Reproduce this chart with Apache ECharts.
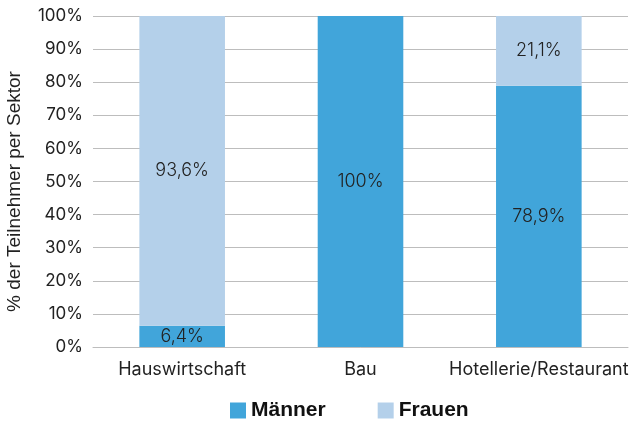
<!DOCTYPE html>
<html>
<head>
<meta charset="utf-8">
<script src="https://cdn.jsdelivr.net/npm/echarts@6/dist/echarts.min.js"></script>
<style>
  html, body { margin: 0; padding: 0; background: #fff; }
  #chart { width: 644px; height: 422px; }
</style>
</head>
<body>
<div id="chart"></div>
<script>
const sectors = ['Hauswirtschaft', 'Bau', 'Hotellerie/Restaurant'];
const maenner = [6.4, 100, 78.9];
const frauen = [93.6, 0, 21.1];
const yTicks = [0, 10, 20, 30, 40, 50, 60, 70, 80, 90, 100];

let fontName = 'Inter';

function pct(p) {
    if (!p.value) return '';
    return String(p.value).replace('.', ',') + '%';
}

let myChart = echarts.init(document.getElementById('chart'));

myChart.setOption({
    animation: false,
    textStyle: { fontFamily: fontName },
    grid: { left: 93, right: 16, top: 16, bottom: 75, containLabel: false, outerBoundsMode: 'none' },
    legend: {
        bottom: -4,
        left: 225,
        itemWidth: 16,
        itemHeight: 16,
        itemGap: 52,
        icon: 'rect',
        textStyle: { fontSize: 21, fontWeight: 'bold', color: '#111', fontFamily: 'Liberation Sans' },
        data: ['Männer', 'Frauen']
    },
    xAxis: {
        type: 'category',
        data: sectors,
        axisLine: { lineStyle: { color: '#bdbdbd' } },
        axisTick: { show: false },
        axisLabel: { interval: 0, fontSize: 18, color: '#222', margin: 14 }
    },
    yAxis: {
        type: 'value',
        min: yTicks[0],
        max: yTicks[yTicks.length - 1],
        interval: 10,
        name: '% der Teilnehmer per Sektor',
        nameLocation: 'middle',
        nameGap: 69,
        nameTextStyle: { fontSize: 19, color: '#222', fontFamily: 'Liberation Sans', padding: [0, 20, 0, 0] },
        axisLabel: { fontSize: 17, color: '#222', margin: 10, formatter: '{value}%' },
        splitLine: { lineStyle: { color: '#bdbdbd' } }
    },
    series: [
        {
            name: 'Männer',
            type: 'bar',
            stack: 'all',
            barWidth: '48%',
            data: maenner,
            itemStyle: { color: '#41a5da' },
            label: { show: true, position: 'inside', formatter: pct, fontSize: 18, fontWeight: 300, color: '#222' }
        },
        {
            name: 'Frauen',
            type: 'bar',
            stack: 'all',
            data: frauen,
            itemStyle: { color: '#b4d0ea' },
            label: { show: true, position: 'inside', formatter: pct, fontSize: 18, fontWeight: 300, color: '#222' }
        }
    ]
});
</script>
</body>
</html>
